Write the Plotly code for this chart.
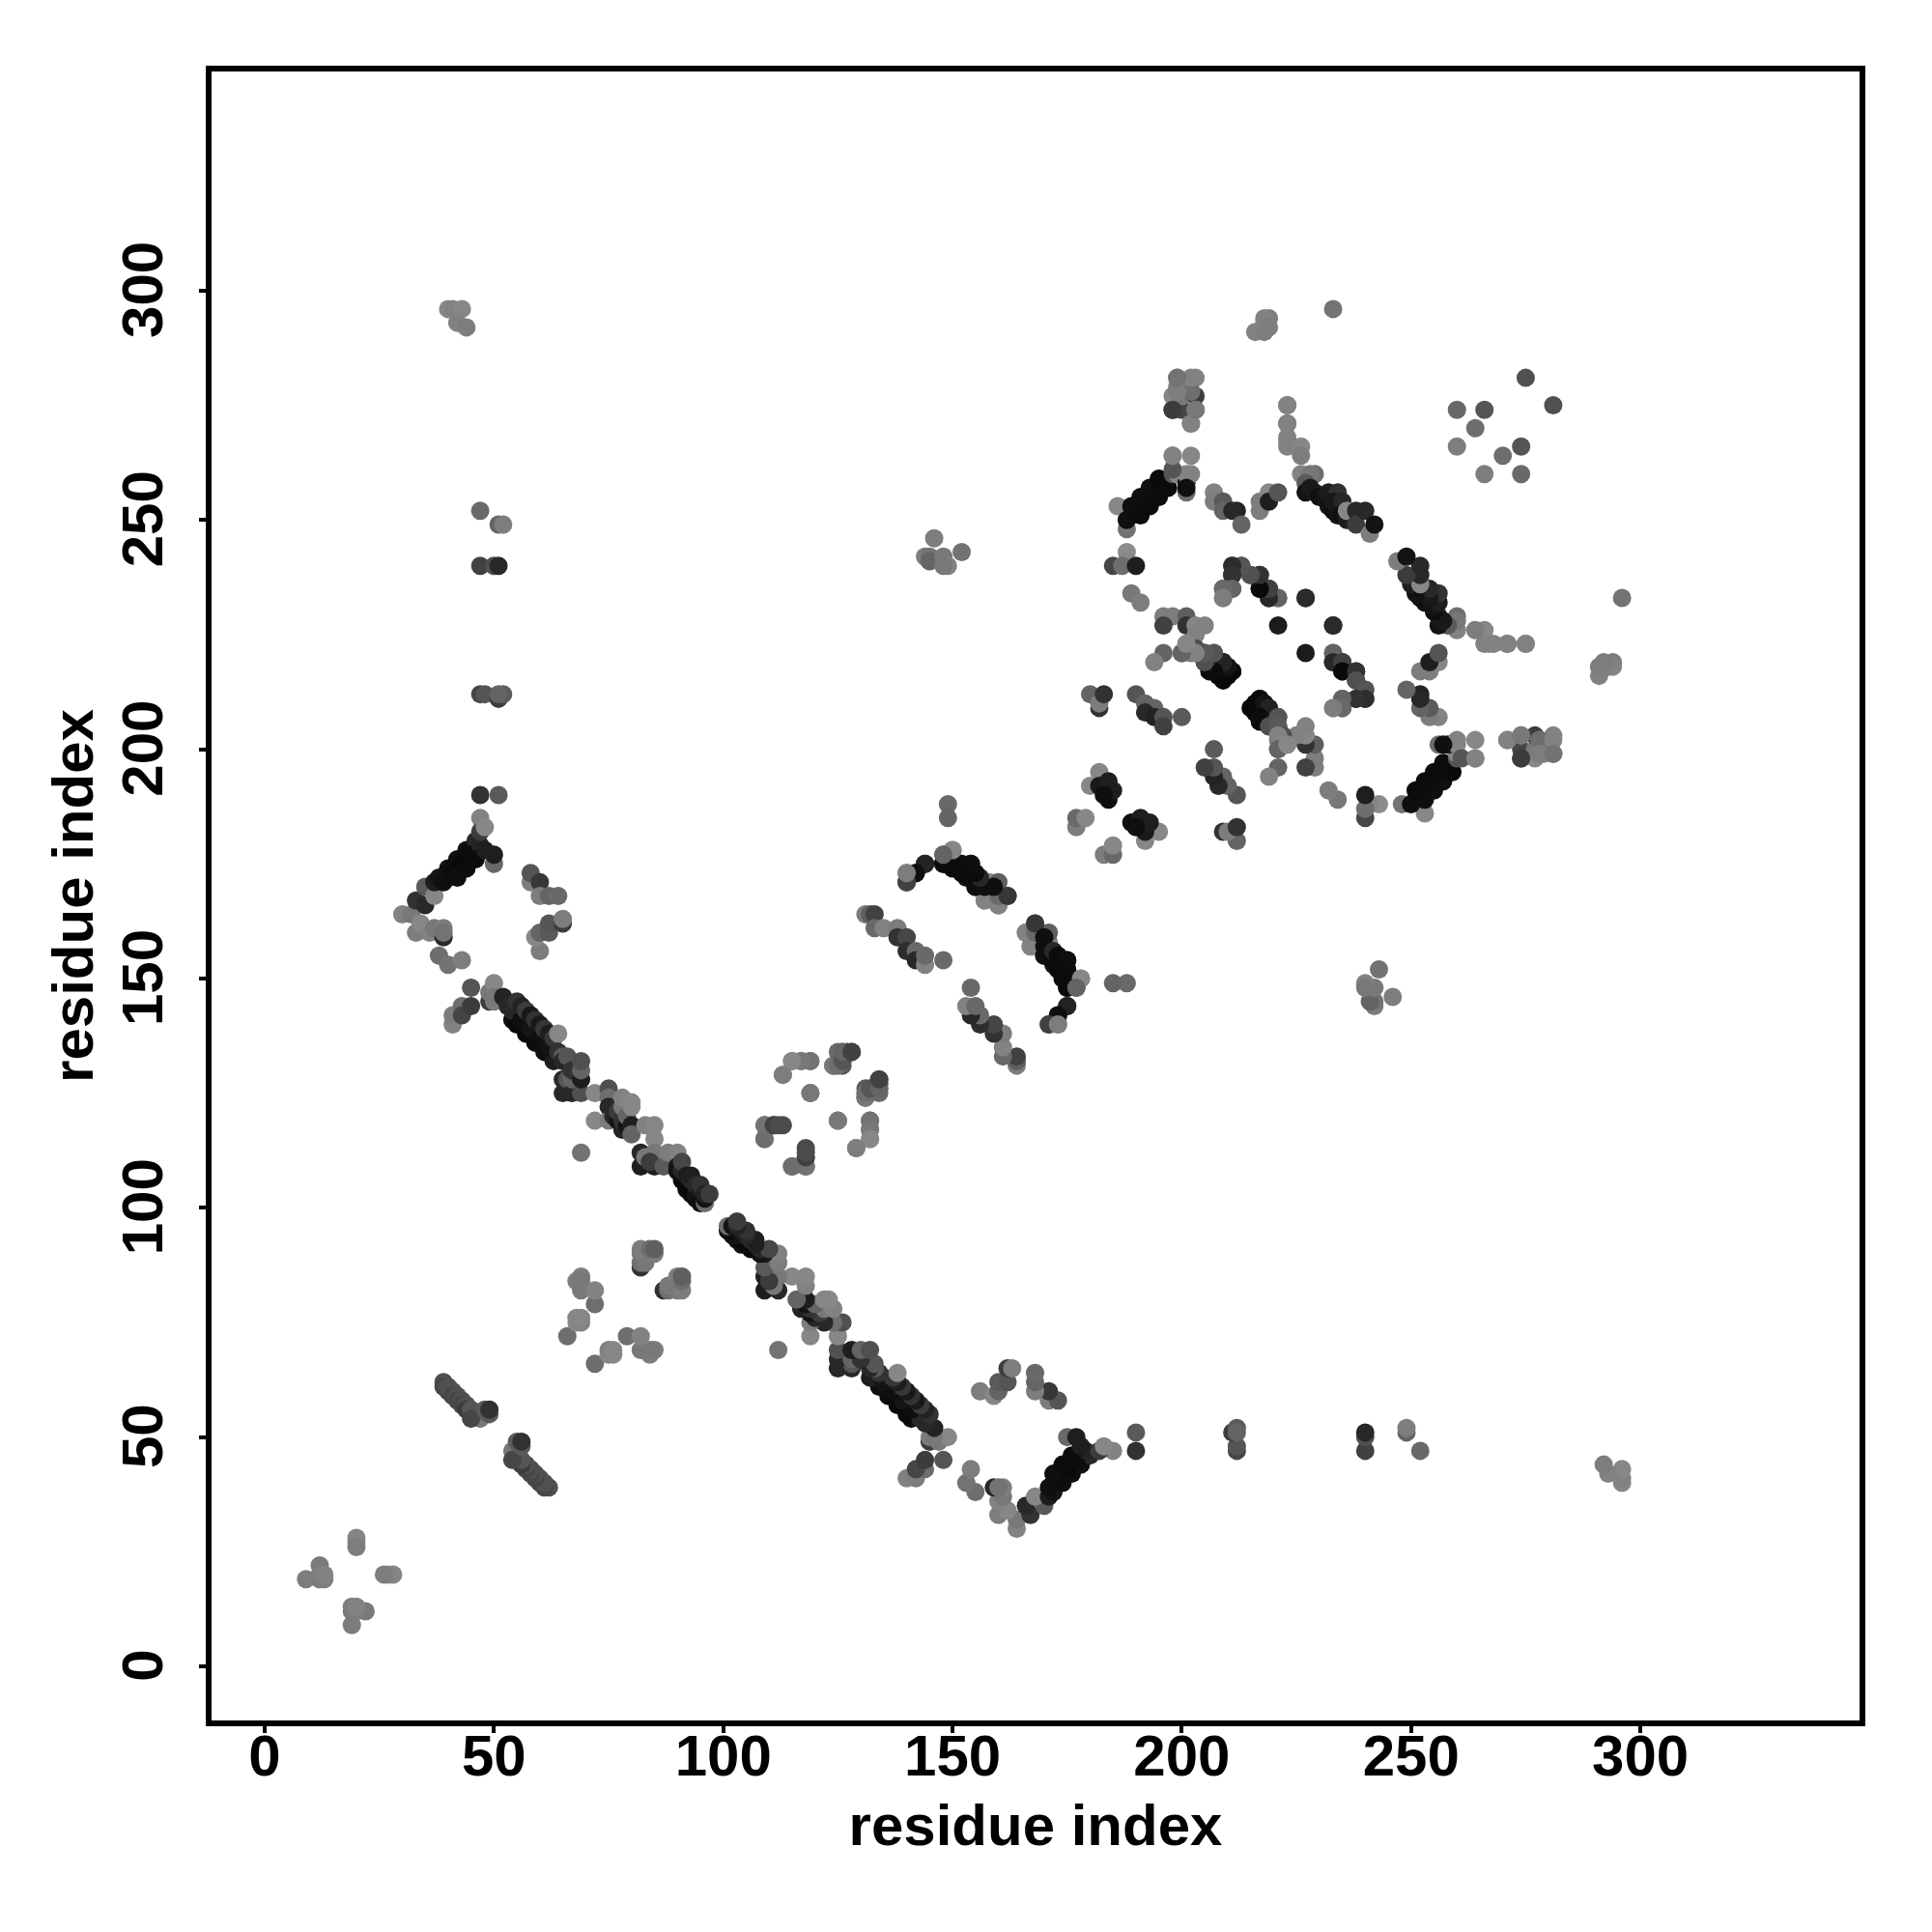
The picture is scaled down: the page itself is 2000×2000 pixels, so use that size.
import plotly.graph_objects as go

# contacts: (residue i, residue j, grey level); the map is symmetric, each contact is drawn at (i,j) and (j,i)
near_origin = [(9,19,125),(12,22,122),(12,19,120),(12,20,125),(13,19,125),(13,20,130),(20,28,132),(20,27,132),(20,26,125)]
strand_39_62 = [(47,54,120),(46,55,110),(39,62,80),(39,61,70),(40,60,70),(40,61,80),(41,60,80),(41,59,70),(42,59,80),(42,58,70),(43,58,80),
    (43,57,70),(44,57,80),(44,56,60),(45,56,85),(45,54,70),(48,56,90),(49,55,90),(49,56,50)]
strand_d = [(41,140,130),(41,142,125),(43,144,110),(43,142,70),(45,144,60),(45,148,85),(49,145,60),(49,147,120),(50,145,125),(50,149,135),(50,146,120)]
strand_main_a = [(52,146,35),(53,144,40),(54,141,15),(56,142,85),(58,140,85),(60,138,85),(62,136,85),(55,140,10),(57,138,10),(59,136,12),(61,134,15),(63,132,30),
    (54,143,40),(56,141,15),(58,139,20),(60,137,15),(62,135,20),(55,145,50),(56,144,35),(57,143,60),(58,142,25),(59,141,50),(60,140,25),(61,139,55),(62,138,30),(63,137,55),(64,138,135),
    (64,134,50),(65,133,90),(65,132,40),(66,133,85),(65,125,40),(65,128,40),(66,128,85),(67,125,40),(67,128,100),(69,125,80),(67,130,50),
    (69,128,30),(69,130,100),(69,132,80)]
strand_main_b = [(72,125,135),(75,126,80),(75,124,110),(75,122,40),(72,119,135),(75,119,125),(76,120,40),(77,119,20),(77,121,60),(78,117,35),(78,119,50),(79,118,20),(78,122,120),(79,120,100),(80,118,30),
    (78,124,130),(80,122,135),(80,123,135),(69,112,115),(80,116,100),(83,118,130),(85,118,135),(85,115,135),(82,109,30),(82,112,40),(85,109,30),
    (83,111,120),(85,112,120),(84,110,60),(87,109,90),(88,112,125),(90,112,130),(90,109,25),(90,108,20),(91,106,10),(91,108,40),(91,110,70),(92,104,15),(92,105,10),(92,107,30),(93,103,15),(93,104,10),
    (93,106,40),(93,107,30),(94,102,15),(94,103,20),(94,105,40),(95,101,15),(95,102,15),(95,104,30),(95,105,50),(96,101,110),(96,102,20),(96,103,35),(97,103,60)]
strand_e = [(30,164,130),(32,164,120),(33,160,125),(34,162,135),(36,160,130),(37,161,120),(39,161,125),(39,159,40),(39,160,115),(38,155,110),(40,153,115),(43,154,125),
    (33,167,50),(35,166,40),(35,170,90),(37,168,135),(37,171,30),(40,172,100),(42,174,100),(44,176,100),(46,178,100),(38,172,20),(40,174,15),(42,176,15),(44,178,15),(46,180,40),
    (39,171,15),(41,173,12),(43,175,10),(45,177,12),(47,179,35),(42,172,15),(44,174,12),(46,176,12),(48,178,30),
    (50,175,105),(50,177,30),(47,185,130),(47,182,60),(48,183,135),(47,190,50),(51,190,90)]
strand_f = [(58,171,125),(58,173,85),(60,171,55),(60,168,125),(62,168,100),(64,168,105),(60,156,125),(59,159,135),(60,160,100),(62,160,90),(62,162,85),(65,162,60),(65,163,125)]
column_far = [(40,296,135),(41,296,130),(43,296,135),(42,293,130),(44,292,125),(47,212,70),(48,212,85),(51,211,60),(52,212,90),(51,212,100),
    (47,240,65),(50,240,80),(51,240,40),(51,249,100),(52,249,125),(47,252,105)]
sheet_lower = [(66,72,110),(68,84,125),(69,85,125),(69,84,120),(69,82,120),(72,79,110),(72,82,130),(68,75,135),(68,76,135),(69,75,130),(69,76,135),
    (82,87,50),(82,88,110),(83,88,120),(84,90,120),(82,90,120),(85,90,125),(82,91,125),(84,91,110),(85,91,95)]
sheet_upper = [(113,129,135),(115,132,130),(117,132,125),(119,132,115),(124,131,105),(124,131,120),(126,131,90),(126,134,100),(127,134,65),(128,134,65),(119,125,120),
    (131,125,110),(134,125,105),(132,126,85),(134,126,100),(134,128,65),(109,118,110),(111,118,80),(113,118,75),(109,115,110),(125,119,120),(132,119,115),(132,117,120),
    (132,115,135),(129,113,125),(118,109,115),(115,109,110),(118,111,65),(118,112,75)]
strand_i = [(140,173,135),(140,171,70),(142,173,15),(144,175,25),(148,175,20),(148,177,110),(150,175,15),(150,178,140),(152,173,15),(151,175,20),(154,175,30),
    (153,172,20),(155,170,15),(155,172,30),(157,167,130),(159,170,20),(158,171,135),(160,171,95),(160,166,110),(162,168,55)]
strand_ii = [(131,164,125),(132,164,95),(133,164,65),(133,161,105),(135,161,130),(138,161,125),(138,159,50),(140,159,70),(140,156,45),(142,156,105),(142,154,40),(144,153,130),(144,155,105),(148,154,105)]
fourth_block = [(149,188,105),(149,185,100),(160,166,130),(160,168,105),(162,168,55),(159,170,15),(157,170,15),(155,170,15),(156,171,15),(154,172,12),(156,172,40),(155,173,12),(153,174,12),(154,175,15),(150,174,12),(151,175,12),(152,175,15),(150,175,12),(152,173,12),(148,175,12),
    (150,178,135),(148,177,100),(144,175,35),(142,173,15),(140,171,65),(140,173,125)]
block_147 = [(144,242,125),(145,242,115),(146,246,125),(145,241,100),(148,242,120),(149,240,130),(148,240,120),(152,243,115)]
block_180 = [(177,183,125),(177,185,105),(179,185,135),(180,192,135),(182,195,135),(182,192,25),(184,189,15),(184,193,30),(185,191,30),(183,190,15),(180,212,100),(182,209,50),(182,210,125),(183,212,50)]
block_190 = [(185,240,70),(188,243,140),(188,241,135),(187,240,110),(190,240,30),(189,234,120),(191,232,125),(186,253,135),(188,248,115),(189,251,100),(191,253,100),(193,255,100),(195,257,100),
    (188,250,15),(190,252,12),(192,254,12),(194,256,12),(196,258,12),(189,253,15),(191,255,15),(193,257,15),(195,259,10),(191,251,12),(193,253,12),(195,255,12),(197,257,12),
    (198,260,85),(199,260,135),(201,256,110),(201,258,30),(201,260,135),(198,264,130),(202,264,135)]
block_198 = [(198,274,65),(200,274,70),(198,277,135),(199,279,130),(200,277,120),(199,281,125),(203,281,130),(203,277,60),(202,278,120),(203,274,125),(202,271,130)]
block_207 = [(207,256,130),(207,254,125),(209,254,90),(209,252,100),(212,252,35),(211,252,40),(213,249,100),(217,252,125),(217,254,125),(219,256,135),(219,254,30),(221,256,85)]
block_223 = [(216,291,130),(218,291,125),(218,293,130),(219,294,125),(233,296,115),(223,275,130),(223,271,110),(223,267,135),(223,266,130),(226,266,135),(226,264,125),
    (226,260,130),(229,260,110),(228,260,120),(227,258,90),(227,256,20),(229,256,30),(228,257,25),(230,255,15),(231,255,20),(232,256,30),(234,256,50),(232,253,20),(233,252,15),(233,254,25),(235,254,40),(234,251,20),(235,251,15),(236,250,30),(236,252,135),(238,252,40),
    (238,249,60),(240,252,40),(241,247,125),(242,249,20)]
block_far = [(223,268,130),(223,271,130),(223,275,130),(260,266,125),(260,274,105),(266,274,85),(264,270,110),(275,281,80)]
block_211 = [(209,233,130),(209,235,80),(211,235,85),(213,240,105),(211,240,85),(211,238,50),(215,238,35),(217,238,35),(217,235,25),(219,235,50),(219,233,35),(221,233,105),(227,233,42),
    (221,227,28),(233,227,42)]
block_196 = [(196,229,125),(198,229,125),(196,227,65),(201,229,95),(201,227,50),(203,227,135),(205,227,130),(203,225,130),(203,222,85),(201,223,135),(200,221,100),(202,221,120),(196,221,100),
    (194,219,130),(205,221,35),(207,221,85),(205,219,15),(206,218,12),(209,219,35),(208,218,12),(207,217,10),(208,216,10),(210,218,15),(211,217,10),(209,215,10),(210,216,10)]
block_191 = [(190,212,85),(192,210,100),(194,209,100),(192,208,40),(194,207,35),(196,207,85),(196,205,65),(200,207,90)]
block_217 = [(216,208,10),(216,210,10),(217,206,12),(218,208,10),(217,211,10),(217,209,10),(218,210,20),(219,209,35),(217,207,12),(220,206,30),(219,205,80),(221,207,85),(221,205,90),(222,203,80),(221,203,130),(221,200,100),(223,201,135)]
strand_240 = [(233,221,100),(233,219,40),(235,219,65),(235,217,10),(238,217,50),(238,215,80),(240,213,85),(240,211,45),(238,211,50),(235,211,100),(235,209,105),(233,209,125)]
right_far = [(198,261,85),(202,260,130),(201,257,15),(198,264,130),(202,271,130),(203,274,120),(198,274,60),(202,278,110),(199,278,125),(202,281,130),(199,281,115),(218,294,130),(219,292,125)]

contact_groups = [near_origin, strand_39_62, strand_d, strand_main_a, strand_main_b, strand_e, strand_f, column_far, sheet_lower, sheet_upper,
                  strand_ii, strand_i, fourth_block, block_147, block_180, block_190, block_198, block_207, block_223, block_far,
                  block_211, block_196, block_191, block_217, strand_240, right_far]
x_ticks = [0, 50, 100, 150, 200, 250, 300]
x_title = "residue index"
y_title = "residue index"

xs, ys, colors = [], [], []
for group in contact_groups:
    for i, j, g in group:
        xs += [j, i]
        ys += [i, j]
        colors += [f"rgb({g},{g},{g})"] * 2

fig = go.Figure(go.Scatter(x=xs, y=ys, mode="markers", cliponaxis=True,
                           marker=dict(size=19, color=colors, line=dict(width=0))))

font = dict(family="Liberation Sans", size=60, color="black", weight="bold")
axis = dict(tickvals=x_ticks, ticks="outside", ticklen=7, tickwidth=3.5, tickcolor="black",
            showline=True, linecolor="black", linewidth=5.5, mirror=True, showgrid=False, zeroline=False,
            tickfont=font, automargin=False)
fig.update_layout(
    width=2000, height=2000, paper_bgcolor="white", plot_bgcolor="white", showlegend=False,
    margin=dict(l=219, r=75, t=74, b=219, pad=0),
    xaxis=dict(axis, range=[-11.59, 347.8], ticklabelstandoff=-28, title=dict(text=x_title, font=font, standoff=20)),
    yaxis=dict(axis, range=[-11.8, 347.8], tickangle=-90, ticklabelstandoff=14, ticklabelshift=8,
               title=dict(text=y_title, font=font, standoff=0)),
)
fig.write_html("out.html", config=dict(displayModeBar=False), post_script="document.body.style.margin='0';")
